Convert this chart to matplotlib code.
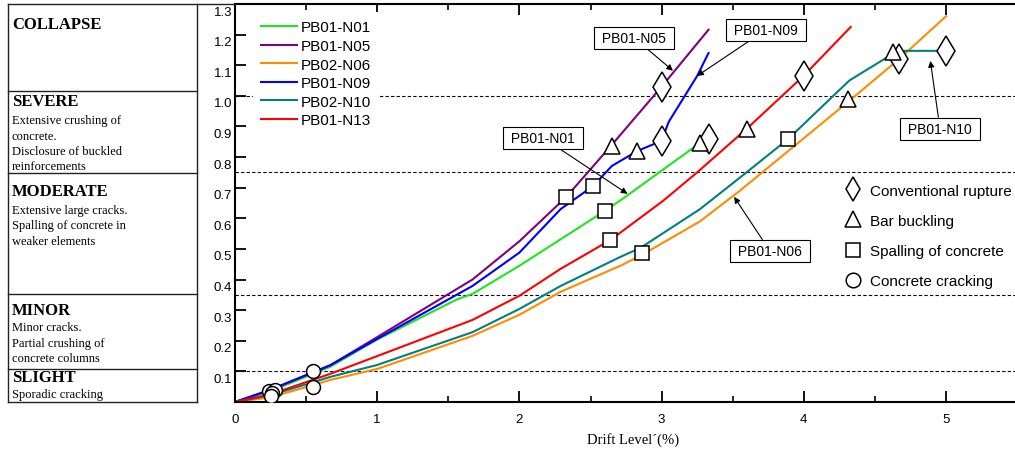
import numpy as np
import matplotlib
matplotlib.use('Agg')
import matplotlib.pyplot as plt
from matplotlib.lines import Line2D
from matplotlib.transforms import ScaledTranslation

plt.rcParams['font.family'] = 'Liberation Sans'

# ---- data: drift level (%) vs damage index ----
names = ['PB01-N01', 'PB01-N05', 'PB02-N06', 'PB01-N09', 'PB02-N10', 'PB01-N13']
colors = ['#1ee61e', '#800080', '#ff8c00', '#0000ff', '#008080', '#ff0000']

n01_x = [0, 0.25, 0.67, 1.0, 1.56, 1.67, 2.0, 2.6, 2.73, 3.27, 3.33]
n01_y = [0, 0.035, 0.115, 0.204, 0.335, 0.353, 0.445, 0.624, 0.665, 0.846, 0.86]
n05_x = [0, 0.25, 0.67, 1.0, 1.67, 2.0, 2.33, 2.65, 3.0, 3.33]
n05_y = [0, 0.04, 0.12, 0.212, 0.40, 0.525, 0.67, 0.84, 1.03, 1.216]
n06_x = [0, 0.25, 0.67, 1.0, 1.67, 2.0, 2.29, 2.71, 2.86, 3.27, 3.55, 3.97, 4.31, 4.67, 5.0]
n06_y = [0, 0.015, 0.072, 0.108, 0.216, 0.285, 0.36, 0.445, 0.48, 0.59, 0.69, 0.85, 0.98, 1.12, 1.26]
n09_x = [0, 0.25, 0.67, 1.0, 1.67, 2.0, 2.29, 2.52, 2.65, 2.83, 3.0, 3.05, 3.25, 3.33]
n09_y = [0, 0.04, 0.12, 0.206, 0.379, 0.488, 0.63, 0.706, 0.771, 0.82, 0.853, 0.915, 1.065, 1.14]
n10_x = [0, 0.25, 0.67, 1.0, 1.67, 2.0, 2.29, 2.71, 2.85, 3.27, 3.57, 3.89, 4.32, 4.59, 4.71, 5.0]
n10_y = [0, 0.022, 0.082, 0.121, 0.228, 0.304, 0.379, 0.474, 0.503, 0.63, 0.74, 0.859, 1.05, 1.127, 1.147, 1.147]
n13_x = [0, 0.25, 0.67, 1.0, 1.67, 2.0, 2.29, 2.64, 3.01, 3.25, 3.6, 4.0, 4.33]
n13_y = [0, 0.025, 0.092, 0.15, 0.268, 0.347, 0.435, 0.529, 0.657, 0.75, 0.893, 1.066, 1.225]

curves_x = [n01_x, n05_x, n06_x, n09_x, n10_x, n13_x]
curves_y = [n01_y, n05_y, n06_y, n09_y, n10_y, n13_y]

# damage events
rupture_x = [3.0, 3.0, 3.33, 4.0, 4.67, 5.0]
rupture_y = [1.03, 0.853, 0.86, 1.066, 1.12, 1.147]
buckling_x = [2.65, 2.83, 3.27, 3.6, 4.31, 4.63]
buckling_y = [0.837, 0.82, 0.846, 0.893, 0.99, 1.144]
spalling_x = [2.33, 2.52, 2.6, 2.64, 2.86, 3.89]
spalling_y = [0.67, 0.706, 0.624, 0.529, 0.487, 0.859]
cracking_x = [0.24, 0.28, 0.26, 0.25, 0.55, 0.55]
cracking_y = [0.035, 0.04, 0.03, 0.02, 0.05, 0.1]

thresholds = [0.1, 0.35, 0.75, 1.0]

# damage state table
states = ['COLLAPSE', 'SEVERE', 'MODERATE', 'MINOR', 'SLIGHT']
state_desc = [
    [],
    ['Extensive crushing of', 'concrete.', 'Disclosure of buckled', 'reinforcements'],
    ['Extensive large cracks.', 'Spalling of concrete in', 'weaker elements'],
    ['Minor cracks.', 'Partial crushing of', 'concrete columns'],
    ['Sporadic cracking'],
]

# callout labels: text, label position, arrow target
callouts = [
    ('PB01-N05', (2.806, 1.19), (3.08, 1.082)),
    ('PB01-N09', (3.734, 1.216), (3.25, 1.065)),
    ('PB01-N01', (2.166, 0.863), (2.76, 0.68)),
    ('PB01-N06', (3.762, 0.493), (3.51, 0.67)),
    ('PB01-N10', (4.958, 0.892), (4.89, 1.114)),
]

W, H = 1015, 452
fig = plt.figure(figsize=(W / 100, H / 100), dpi=100)


def fx(px):
    return px / W


def fy(py):
    return 1 - py / H


x0, y0, ytop = 235, 403, 5
xmax = 5.6
ax = fig.add_axes([fx(x0), fy(y0), xmax * 142.2 / W, (y0 - ytop) / H])

for yv in thresholds:
    ax.axhline(yv, color='black', lw=0.8, ls=(0, (3, 2)), zorder=1)

for cx, cy, c, n in zip(curves_x, curves_y, colors, names):
    ax.plot(cx, cy, color=c, lw=1.5, label=n, zorder=2)

mk = dict(linestyle='none', mfc='white', mec='black', mew=1.1, zorder=3)
ax.plot(rupture_x, rupture_y, marker='d', ms=15, **mk)
ax.plot(buckling_x, buckling_y, marker='^', ms=11, **mk)
ax.plot(spalling_x, spalling_y, marker='s', ms=9.5, **mk)
ax.plot(cracking_x, cracking_y, marker='o', ms=10, **mk)

for txt, pos, tgt in callouts:
    ax.annotate(' ' + txt + ' ', xy=tgt, xytext=pos, fontsize=10, ha='center', va='center',
                bbox=dict(boxstyle='square,pad=0.3', fc='white', ec='black', lw=0.8),
                arrowprops=dict(arrowstyle='-|>', color='black', lw=0.8,
                                mutation_scale=9, shrinkA=0, shrinkB=0),
                zorder=4)

ax.set_xlim(0, xmax)
ax.set_ylim(0, 1.3)
ax.set_xticks([0, 1, 2, 3, 4, 5])
ax.set_xticks(np.arange(0.5, 5.5, 1.0), minor=True)
ax.set_yticks(np.round(np.arange(0.1, 1.31, 0.1), 1))
ax.set_yticklabels([f'{v:.1f}' for v in np.arange(0.1, 1.31, 0.1)])
ax.tick_params(axis='both', which='major', direction='in', length=8, width=1.3,
               labelsize=9.5, top=True)
ax.tick_params(axis='x', which='minor', direction='in', length=4, width=1.2, top=True)
ax.tick_params(axis='x', pad=8)
ax.tick_params(axis='y', pad=2)
for s in ax.spines.values():
    s.set_linewidth(1.5)

off = ScaledTranslation(0, -0.06, fig.dpi_scale_trans)
for lab in ax.get_yticklabels():
    lab.set_transform(lab.get_transform() + off)

ax.set_xlabel('Drift Level\u00b4(%)', family='Liberation Serif', fontsize=10.5, labelpad=5)

leg1 = ax.legend(loc='upper left', bbox_to_anchor=(fx(253), fy(13)),
                 bbox_transform=fig.transFigure, fontsize=11, frameon=True,
                 fancybox=False, edgecolor='none', facecolor='white', framealpha=1,
                 handlelength=2.3, handletextpad=0.3, labelspacing=0.30,
                 borderpad=0.55, borderaxespad=0)
ax.add_artist(leg1)

ev_handles = [
    Line2D([], [], marker='d', ms=12, linestyle='none', mfc='white', mec='black', mew=1.1),
    Line2D([], [], marker='^', ms=11, linestyle='none', mfc='white', mec='black', mew=1.1),
    Line2D([], [], marker='s', ms=9.5, linestyle='none', mfc='white', mec='black', mew=1.1),
    Line2D([], [], marker='o', ms=10.5, linestyle='none', mfc='white', mec='black', mew=1.1),
]
ev_labels = ['Conventional rupture', 'Bar buckling', 'Spalling of concrete', 'Concrete cracking']
ax.legend(ev_handles, ev_labels, loc='upper left', bbox_to_anchor=(fx(841), fy(180)),
          bbox_transform=fig.transFigure, fontsize=11, frameon=False,
          handlelength=1.0, handletextpad=0.6, labelspacing=1.06,
          borderpad=0.3, borderaxespad=0)

# ---- damage state table on the left ----
tl, tr = 8, 197
rows = [5, 92, 174, 295, 370, 403]
title_y = [25, 102, 192, 311, 378]
desc_y0 = [0, 121, 211, 328, 395]
lk = dict(color='#222222', lw=1.0, transform=fig.transFigure)
fig.add_artist(Line2D([fx(tl), fx(tl)], [fy(rows[0]), fy(rows[-1])], **lk))
fig.add_artist(Line2D([fx(tr), fx(tr)], [fy(rows[0]), fy(rows[-1])], **lk))
fig.add_artist(Line2D([fx(tl), fx(x0)], [fy(rows[0]), fy(rows[0])], **lk))
for r in rows[1:]:
    fig.add_artist(Line2D([fx(tl), fx(tr)], [fy(r), fy(r)], **lk))

for i, st in enumerate(states):
    fig.text(fx(12), fy(title_y[i]), st, family='Liberation Serif', fontweight='bold',
             fontsize=12, va='center', ha='left')
    for j, line in enumerate(state_desc[i]):
        fig.text(fx(12), fy(desc_y0[i] + j * 15.5), line, family='Liberation Serif',
                 fontsize=9, va='center', ha='left')

plt.savefig('out.png', dpi=100)
